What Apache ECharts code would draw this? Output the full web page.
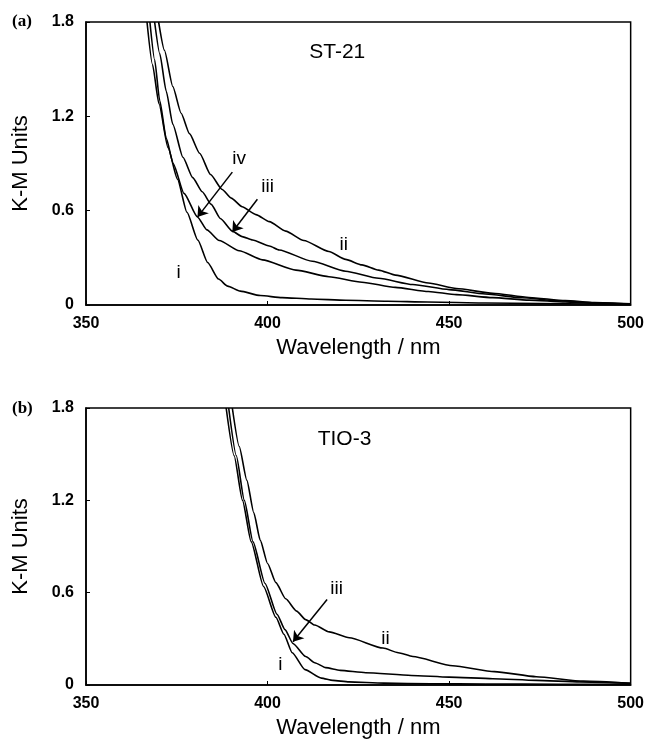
<!DOCTYPE html>
<html>
<head>
<meta charset="utf-8">
<script src="https://cdn.jsdelivr.net/npm/echarts@6/dist/echarts.min.js"></script>
<style>
html,body{margin:0;padding:0;background:#fff;}
#chart{width:647px;height:740px;}
</style>
</head>
<body>
<div id="chart"></div>
<script>
// ---- Data (wavelength nm, K-M units) ----
const xTicks = [350, 400, 450, 500];
const yTicks = [0, 0.6, 1.2, 1.8];

// Panel (a) ST-21
const a_i = [[366.8,1.8],[368.3,1.53],[370.1,1.28],[372.6,1.0],[375.2,0.8],[377.8,0.59],[380.8,0.413],[383.5,0.27],[386.5,0.165],[389,0.12],[392.5,0.088],[398,0.06],[404,0.047],[412,0.038],[421.5,0.03],[433,0.024],[444,0.019],[460,0.013],[475,0.009],[490,0.006],[500,0.004]];
const a_ii = [[370,1.8],[371.6,1.62],[373.9,1.39],[376.2,1.22],[378.5,1.09],[381.3,0.965],[384.3,0.83],[387.5,0.735],[390,0.68],[393,0.625],[396.8,0.575],[400.5,0.53],[405,0.47],[410,0.41],[416.9,0.34],[421.5,0.29],[426,0.255],[430.6,0.222],[435.2,0.19],[444.3,0.14],[452,0.105],[462,0.075],[472,0.048],[482,0.028],[490,0.016],[500,0.007]];
const a_iii = [[368.9,1.8],[370.3,1.6],[372.1,1.36],[373.9,1.15],[376.7,0.94],[379.4,0.81],[382,0.72],[384.5,0.64],[387,0.55],[390.4,0.468],[393,0.435],[395.9,0.413],[400.5,0.375],[403.2,0.35],[412.3,0.278],[421.5,0.215],[430.6,0.17],[440,0.13],[450,0.098],[460,0.07],[470,0.046],[480,0.027],[490,0.014],[500,0.006]];
const a_iv = [[367.6,1.8],[368.9,1.56],[370.3,1.3],[372.1,1.06],[374,0.9],[377,0.71],[380.7,0.56],[383.3,0.478],[386.7,0.41],[392.2,0.345],[398.6,0.287],[407.8,0.222],[416.9,0.18],[426,0.145],[435.2,0.112],[444.3,0.086],[452,0.066],[462,0.047],[472,0.031],[482,0.019],[490,0.011],[500,0.005]];

// Panel (b) TIO-3
const b_i = [[388.6,1.8],[390.8,1.49],[393.1,1.2],[395.5,0.93],[398.9,0.64],[402.3,0.44],[404.5,0.33],[406.8,0.21],[410.3,0.1],[414.8,0.045],[418,0.03],[422.4,0.02],[432,0.012],[445,0.008],[460,0.006],[480,0.005],[500,0.004]];
const b_ii = [[390.3,1.8],[392.2,1.55],[394.3,1.33],[396.2,1.12],[398,0.94],[400,0.79],[402.3,0.665],[405,0.56],[408,0.48],[410.5,0.425],[413,0.39],[417,0.345],[422.5,0.307],[431.8,0.24],[436,0.21],[440,0.185],[451,0.125],[462.5,0.087],[474,0.054],[487,0.025],[500,0.011]];
const b_iii = [[389.3,1.8],[391.4,1.49],[393.6,1.2],[396,0.93],[399.3,0.66],[402.6,0.46],[404.8,0.36],[407,0.27],[410.5,0.185],[413,0.145],[416,0.113],[420,0.095],[427,0.08],[439.6,0.062],[450,0.051],[462,0.041],[474,0.03],[486,0.02],[500,0.011]];

// Annotations (data coordinates)
const notesA = [
  {name:'ST-21', value:[419.2,1.607], big:true},
  {name:'iv', value:[392.2,0.928]},
  {name:'iii', value:[400.0,0.750]},
  {name:'ii', value:[421.0,0.381]},
  {name:'i', value:[375.5,0.206]}
];
const notesB = [
  {name:'TIO-3', value:[421.2,1.597], big:true},
  {name:'iii', value:[419.0,0.623]},
  {name:'ii', value:[432.5,0.299]},
  {name:'i', value:[403.5,0.130]}
];
const arrowsA = [
  [[390.3,0.845],[380.7,0.559]],
  [[397.2,0.673],[390.3,0.464]]
];
const arrowsB = [
  [[416.4,0.556],[407.0,0.281]]
];

// ---- Chart ----
const chart = echarts.init(document.getElementById('chart'), null, {renderer:'canvas'});
const SANS = '"Liberation Sans", Arial, sans-serif';

function xAxisFor(g){
  return {
    type:'value', gridIndex:g, min:xTicks[0], max:xTicks[xTicks.length-1], interval:50,
    axisLine:{show:true, onZero:false, lineStyle:{color:'#000', width:1.5}},
    axisTick:{show:true, inside:true, length:4, lineStyle:{color:'#000', width:1}},
    axisLabel:{color:'#000', fontFamily:SANS, fontWeight:'bold', fontSize:16, margin:11},
    splitLine:{show:false},
    name:'Wavelength / nm', nameLocation:'middle', nameGap:32,
    nameTextStyle:{color:'#000', fontFamily:SANS, fontSize:22}
  };
}
function yAxisFor(g){
  return {
    type:'value', gridIndex:g, min:yTicks[0], max:yTicks[yTicks.length-1], interval:0.6,
    axisLine:{show:true, onZero:false, lineStyle:{color:'#000', width:1.5}},
    axisTick:{show:true, inside:true, length:4, lineStyle:{color:'#000', width:1}},
    axisLabel:{color:'#000', fontFamily:SANS, fontWeight:'bold', fontSize:16, margin:12,
      formatter:function(v){ return Math.abs(v) < 1e-9 ? '0' : v.toFixed(1); }},
    splitLine:{show:false},
    name:'K-M Units', nameLocation:'middle', nameGap:54,
    nameTextStyle:{color:'#000', fontFamily:SANS, fontSize:22}
  };
}
function curve(data, g){
  return {type:'line', xAxisIndex:g, yAxisIndex:g, data:data, showSymbol:false, symbol:'none',
    smooth:0.2, smoothMonotone:'x', lineStyle:{color:'#000', width:1.6}, silent:true, z:3};
}
function notes(data, g){
  return {type:'scatter', xAxisIndex:g, yAxisIndex:g, symbolSize:0, silent:true, z:5,
    itemStyle:{color:'#000', opacity:1},
    data:data.map(function(d){
      return {name:d.name, value:d.value,
        label:{show:true, position:'inside', formatter:'{b}', color:'#000', opacity:1,
          textBorderWidth:0, fontFamily:SANS, fontSize: d.big ? 21 : 19}};
    })};
}
function arrows(data, g){
  return {type:'lines', coordinateSystem:'cartesian2d', xAxisIndex:g, yAxisIndex:g, silent:true, z:4,
    symbol:['none','arrow'], symbolSize:10,
    lineStyle:{color:'#000', width:1.5, opacity:1, curveness:0},
    data:data.map(function(c){ return {coords:c}; })};
}

chart.setOption({
  animation:false,
  backgroundColor:'#fff',
  grid:[
    {left:86, top:22, width:547, height:283, show:true, borderColor:'#000', borderWidth:1.5, backgroundColor:'transparent'},
    {left:86, top:408, width:547, height:277, show:true, borderColor:'#000', borderWidth:1.5, backgroundColor:'transparent'}
  ],
  xAxis:[xAxisFor(0), xAxisFor(1)],
  yAxis:[yAxisFor(0), yAxisFor(1)],
  graphic:[
    {type:'text', left:12, top:13, style:{text:'(a)', fill:'#000', font:'bold 17px "Liberation Serif", "Times New Roman", serif'}},
    {type:'text', left:12, top:400, style:{text:'(b)', fill:'#000', font:'bold 17px "Liberation Serif", "Times New Roman", serif'}}
  ],
  series:[
    curve(a_i,0), curve(a_ii,0), curve(a_iii,0), curve(a_iv,0),
    curve(b_i,1), curve(b_ii,1), curve(b_iii,1),
    notes(notesA,0), notes(notesB,1),
    arrows(arrowsA,0), arrows(arrowsB,1)
  ]
});
</script>
</body>
</html>
